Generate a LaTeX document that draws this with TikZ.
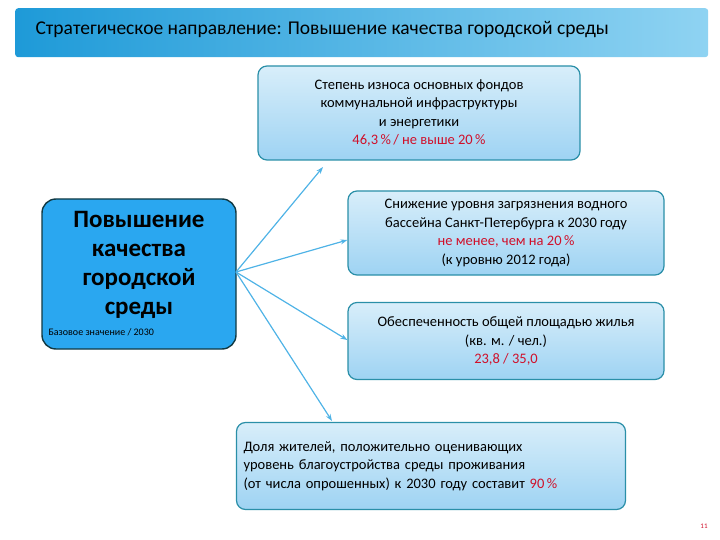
\documentclass[tikz,border=0pt]{standalone}
\usepackage{fontspec}
\setmainfont{Carlito}
\usetikzlibrary{arrows.meta}
\definecolor{bord}{HTML}{2A8FA8}
\definecolor{lite}{HTML}{D8EEFA}
\definecolor{mid}{HTML}{9ED3F3}
\definecolor{mainb}{HTML}{2AA7F0}
\definecolor{arr}{HTML}{4FB3E6}
\definecolor{redt}{HTML}{D0102A}
\definecolor{tl}{HTML}{1E9AD8}
\definecolor{tr}{HTML}{8FD3F2}
\tikzset{
 goal/.style={draw=bord, line width=1.2pt, rounded corners=9pt, top color=lite, bottom color=mid, align=center, font=\fontsize{14.5}{18.5}\selectfont},
 conn/.style={draw=arr, line width=1.2pt, -{Stealth[length=7pt,width=5pt]}}
}
\begin{document}
\begin{tikzpicture}[x=1pt,y=-1pt]
\useasboundingbox (0,0) rectangle (720,540);
\node (title) [draw=none, left color=tl, right color=tr, rounded corners=3pt, minimum width=693pt, minimum height=49pt, anchor=north west, inner sep=0pt] at (15,8) {};
\node (titletext) [anchor=west, font=\fontsize{19.5}{22}\selectfont] at (32,30) {Стратегическое направление: Повышение качества городской среды};
\node (b1) [goal, minimum width=322pt, minimum height=94pt] at (419,113) {Степень износа основных фондов\\коммунальной инфраструктуры\\и энергетики\\\textcolor{redt}{46,3\,\%\,/ не выше 20\,\%}};
\node (m) [draw=black!60!bord, line width=1.4pt, rounded corners=14pt, fill=mainb, minimum width=194pt, minimum height=150pt] at (139,274) {};
\node (mt) [align=center, font=\bfseries\fontsize{25}{29}\selectfont] at (139,265) {Повышение\\качества\\городской\\среды};
\node (ms) [font=\fontsize{10}{11}\selectfont, anchor=west] at (45,332) {Базовое значение / 2030};
\node (b2) [goal, minimum width=316pt, minimum height=84pt] at (506,233) {Снижение уровня загрязнения водного\\бассейна Санкт-Петербурга к 2030 году\\\textcolor{redt}{не менее, чем на 20\,\%}\\(к уровню 2012 года)};
\node (b3) [goal, minimum width=316pt, minimum height=77pt] at (506,341) {Обеспеченность общей площадью жилья\\(кв. м. / чел.)\\\textcolor{redt}{23,8 / 35,0}};
\node (b4) [goal, align=left, minimum width=389pt, minimum height=87pt, text width=375pt] at (431,466) {Доля жителей, положительно оценивающих\\уровень благоустройства среды проживания\\(от числа опрошенных) к 2030 году составит \textcolor{redt}{90\,\%}};
\coordinate (s) at (236,272);
\coordinate (t1) at (323,167);
\draw[conn] (s) -- (t1);
\draw[conn] (s) -- (b2.west |- 0,240);
\draw[conn] (s) -- (b3.west |- 0,340);
\draw[conn] (s) -- (332,421);
\node (pg) [text=redt, font=\fontsize{7}{8}\selectfont] at (704,526) {11};
\end{tikzpicture}
\end{document}
